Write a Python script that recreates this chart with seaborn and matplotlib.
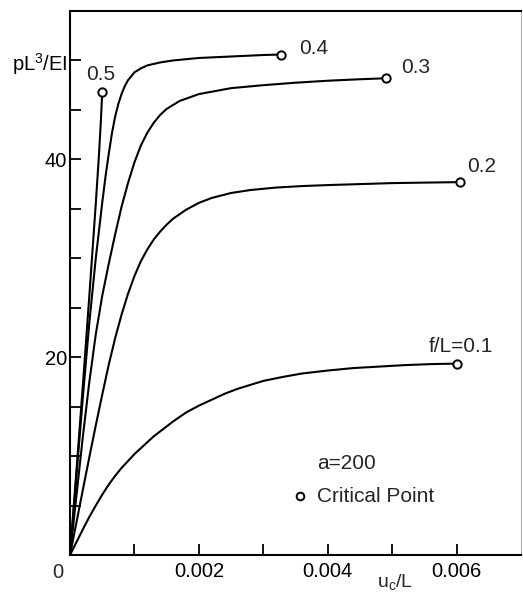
import numpy as np
import pandas as pd
import matplotlib
matplotlib.use('Agg')
import matplotlib.pyplot as plt
import seaborn as sns

sns.set_style('ticks')
plt.rcParams['font.family'] = ['Liberation Sans', 'DejaVu Sans']

# load-deflection curves, last point of each = critical point
x_01 = [0, 0.0001, 0.0002, 0.0003, 0.0004, 0.0005, 0.0006, 0.0007, 0.0008, 0.0009,
        0.001, 0.0011, 0.0012, 0.0013, 0.0014, 0.0016, 0.0018, 0.002, 0.0022, 0.0024,
        0.0026, 0.0028, 0.003, 0.0033, 0.0036, 0.004, 0.0044, 0.0048, 0.0052, 0.0056, 0.006]
y_01 = [0, 1.3, 2.6, 3.85, 5.0, 6.1, 7.1, 8.0, 8.8, 9.5,
        10.2, 10.8, 11.4, 12.0, 12.5, 13.5, 14.4, 15.1, 15.7, 16.3,
        16.8, 17.2, 17.6, 18.0, 18.35, 18.65, 18.9, 19.05, 19.2, 19.3, 19.35]

x_02 = [0, 0.0001, 0.0002, 0.0003, 0.0004, 0.0005, 0.0006, 0.0007, 0.0008, 0.0009,
        0.001, 0.0011, 0.0012, 0.0013, 0.0014, 0.0015, 0.0016, 0.0018, 0.002, 0.0022,
        0.0025, 0.0028, 0.0032, 0.0036, 0.004, 0.0045, 0.005, 0.0055, 0.00606]
y_02 = [0, 3.3, 6.6, 9.9, 13.1, 16.2, 19.2, 21.9, 24.3, 26.4,
        28.2, 29.7, 30.9, 31.9, 32.7, 33.4, 34.0, 34.9, 35.6, 36.1,
        36.6, 36.9, 37.15, 37.3, 37.4, 37.5, 37.6, 37.65, 37.7]

x_03 = [0, 0.0001, 0.0002, 0.0003, 0.0004, 0.0005, 0.0006, 0.0007, 0.0008, 0.0009,
        0.001, 0.0011, 0.0012, 0.0013, 0.0014, 0.0015, 0.0017, 0.002, 0.0025, 0.003,
        0.0035, 0.004, 0.0045, 0.0049]
y_03 = [0, 6.0, 12.0, 17.5, 22.3, 26.2, 29.4, 32.4, 35.2, 37.6,
        39.7, 41.4, 42.7, 43.7, 44.5, 45.1, 45.9, 46.6, 47.2, 47.5,
        47.75, 47.95, 48.1, 48.2]

x_04 = [0, 0.0001, 0.0002, 0.0003, 0.0004, 0.0005, 0.00055, 0.0006, 0.00065, 0.0007,
        0.00075, 0.0008, 0.00085, 0.0009, 0.001, 0.0011, 0.0012, 0.0014, 0.0016, 0.002,
        0.0025, 0.003, 0.00327]
y_04 = [0, 8.0, 16.0, 23.5, 30.0, 35.6, 38.2, 40.5, 42.6, 44.3,
        45.6, 46.6, 47.4, 48.0, 48.8, 49.2, 49.5, 49.8, 50.0, 50.25,
        50.4, 50.55, 50.6]

x_05 = [0, 0.0001, 0.0002, 0.0003, 0.0004, 0.00045, 0.00048, 0.0005]
y_05 = [0, 8.5, 17.2, 26.2, 35.5, 40.5, 44.0, 46.8]

curve_labels = ['f/L=0.1', '0.2', '0.3', '0.4', '0.5']
# text offsets (pixels) from the critical point
label_offsets = [(-28, 17), (7, 16), (15, 11), (18, 6), (-16, 18)]

curves = [(x_01, y_01), (x_02, y_02), (x_03, y_03), (x_04, y_04), (x_05, y_05)]

fig = plt.figure(figsize=(5.23, 5.93), dpi=100)
ax = fig.add_axes([70 / 523, 38 / 593, 451 / 523, 544 / 593])

for (xs, ys), lab, off in zip(curves, curve_labels, label_offsets):
    df = pd.DataFrame({'u': xs, 'p': ys})
    sns.lineplot(data=df, x='u', y='p', ax=ax, color='black', linewidth=1.5,
                 sort=False, estimator=None, solid_joinstyle='round')
    ax.plot(xs[-1], ys[-1], 'o', ms=6, mfc='white', mec='black', mew=1.4, zorder=5)
    ax.annotate(lab, xy=(xs[-1], ys[-1]), xytext=off, textcoords='offset pixels',
                fontsize=15, ha='left', va='center')

ax.set_xlim(0, 0.007)
ax.set_ylim(0, 55)

ax.set_xticks([0.001, 0.002, 0.003, 0.004, 0.005, 0.006])
ax.set_xticklabels(['', '0.002', '', '0.004', '', '0.006'])
ax.set_yticks([5, 10, 15, 20, 25, 30, 35, 40, 45, 50])
ax.set_yticklabels(['', '', '', '20', '', '', '', '40', '', r'pL$^\mathregular{3}$/EI'])
ax.tick_params(direction='in', length=8, width=1.3, labelsize=14.5, colors='black')
ax.tick_params(axis='x', pad=5)
ax.tick_params(axis='y', pad=2)
ax.set_xlabel('')
ax.set_ylabel('')

ax.annotate('0', xy=(0, 0), xytext=(-12, -8), textcoords='offset pixels',
            fontsize=14.5, ha='center', va='top')
ax.text(0.72, -0.052, r'u$_\mathregular{c}$/L', transform=ax.transAxes,
        fontsize=14, ha='center', va='center')

ax.text(0.548, 0.169, 'a=200', transform=ax.transAxes, fontsize=15,
        ha='left', va='center')
ax.plot([0.51], [0.108], 'o', ms=5.5, mfc='white', mec='black', mew=1.4,
        transform=ax.transAxes)
ax.text(0.548, 0.108, 'Critical Point', transform=ax.transAxes, fontsize=15,
        ha='left', va='center')

for side in ['left', 'bottom', 'top']:
    ax.spines[side].set_linewidth(1.5)
    ax.spines[side].set_color('black')
ax.spines['right'].set_linewidth(0.8)
ax.spines['right'].set_color('0.7')

fig.savefig('out.png', dpi=100)
